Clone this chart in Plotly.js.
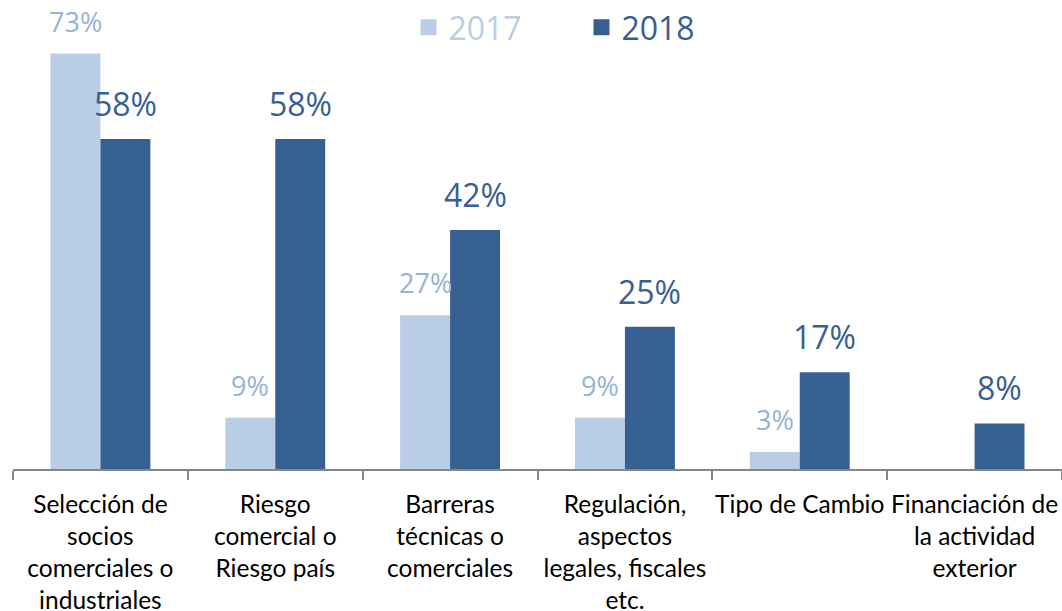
<!DOCTYPE html>
<html>
<head>
<meta charset="utf-8">
<script src="https://cdn.plot.ly/plotly-3.0.1.min.js"></script>
<style>html,body{margin:0;padding:0;background:#fff;}#chart{width:1062px;height:611px;}</style>
</head>
<body>
<div id="chart"></div>
<script>
const categories = [
  "Selección de<br>socios<br>comerciales o<br>industriales",
  "Riesgo<br>comercial o<br>Riesgo país",
  "Barreras<br>técnicas o<br>comerciales",
  "Regulación,<br>aspectos<br>legales, fiscales<br>etc.",
  "Tipo de Cambio",
  "Financiación de<br>la actividad<br>exterior"
];
const values2017 = [73, 9, 27, 9, 3, null];
const values2018 = [58, 58, 42, 25, 17, 8];
const seriesNames = ["2017", "2018"];

const cLight = "#b9cde5";
const cLightText = "#95b3d7";
const cDark = "#376092";
const font = "Open Sans, Noto Sans, sans-serif";
const tickFont = "Lato, Open Sans, sans-serif";

const traces = [
  {type: "bar", x: categories, y: values2017, marker: {color: cLight}, showlegend: false, hoverinfo: "none"},
  {type: "bar", x: categories, y: values2018, marker: {color: cDark}, showlegend: false, hoverinfo: "none"},
  {type: "scatter", mode: "markers", x: [null], y: [null], marker: {symbol: "square", size: 21, color: cLight},
   name: '<span style="color:' + cLight + '">' + seriesNames[0] + '</span>'},
  {type: "scatter", mode: "markers", x: [null], y: [null], marker: {symbol: "square", size: 21, color: cDark},
   name: '<span style="color:' + cDark + '">' + seriesNames[1] + '</span>'}
];

const annotations = [];
categories.forEach((c, i) => {
  if (values2017[i] !== null) {
    annotations.push({x: c, y: values2017[i], xref: "x", yref: "y", text: values2017[i] + "%",
      showarrow: false, xshift: -25, yshift: 12, yanchor: "bottom",
      font: {family: font, size: 27, color: cLightText}});
  }
  if (values2018[i] !== null) {
    annotations.push({x: c, y: values2018[i], xref: "x", yref: "y", text: values2018[i] + "%",
      showarrow: false, xshift: 25, yshift: 12, yanchor: "bottom",
      font: {family: font, size: 32, color: cDark}});
  }
});

const layout = {
  width: 1062, height: 611,
  margin: {l: 13, r: 0, t: 0, b: 142},
  paper_bgcolor: "#fff", plot_bgcolor: "#fff",
  barmode: "group", bargap: 0.4286, bargroupgap: 0,
  font: {family: font, color: "#000"},
  xaxis: {
    type: "category", showgrid: false, zeroline: false,
    showline: true, linecolor: "#868686", linewidth: 2,
    ticks: "outside", tickson: "boundaries", ticklen: 9, tickcolor: "#868686", tickwidth: 2,
    tickfont: {family: tickFont, size: 24.5, color: "#000"}, tickangle: 0, automargin: false,
    ticklabelstandoff: 13
  },
  yaxis: {visible: false, range: [0, 82.4], fixedrange: true},
  showlegend: true,
  legend: {orientation: "h", x: 0.377, xanchor: "left", y: 1, yanchor: "top",
    entrywidth: 128, entrywidthmode: "pixels", font: {family: font, size: 32, color: cDark},
    bgcolor: "rgba(0,0,0,0)"},
  annotations: annotations
};

Plotly.newPlot("chart", traces, layout, {displayModeBar: false, staticPlot: true});
</script>
</body>
</html>
